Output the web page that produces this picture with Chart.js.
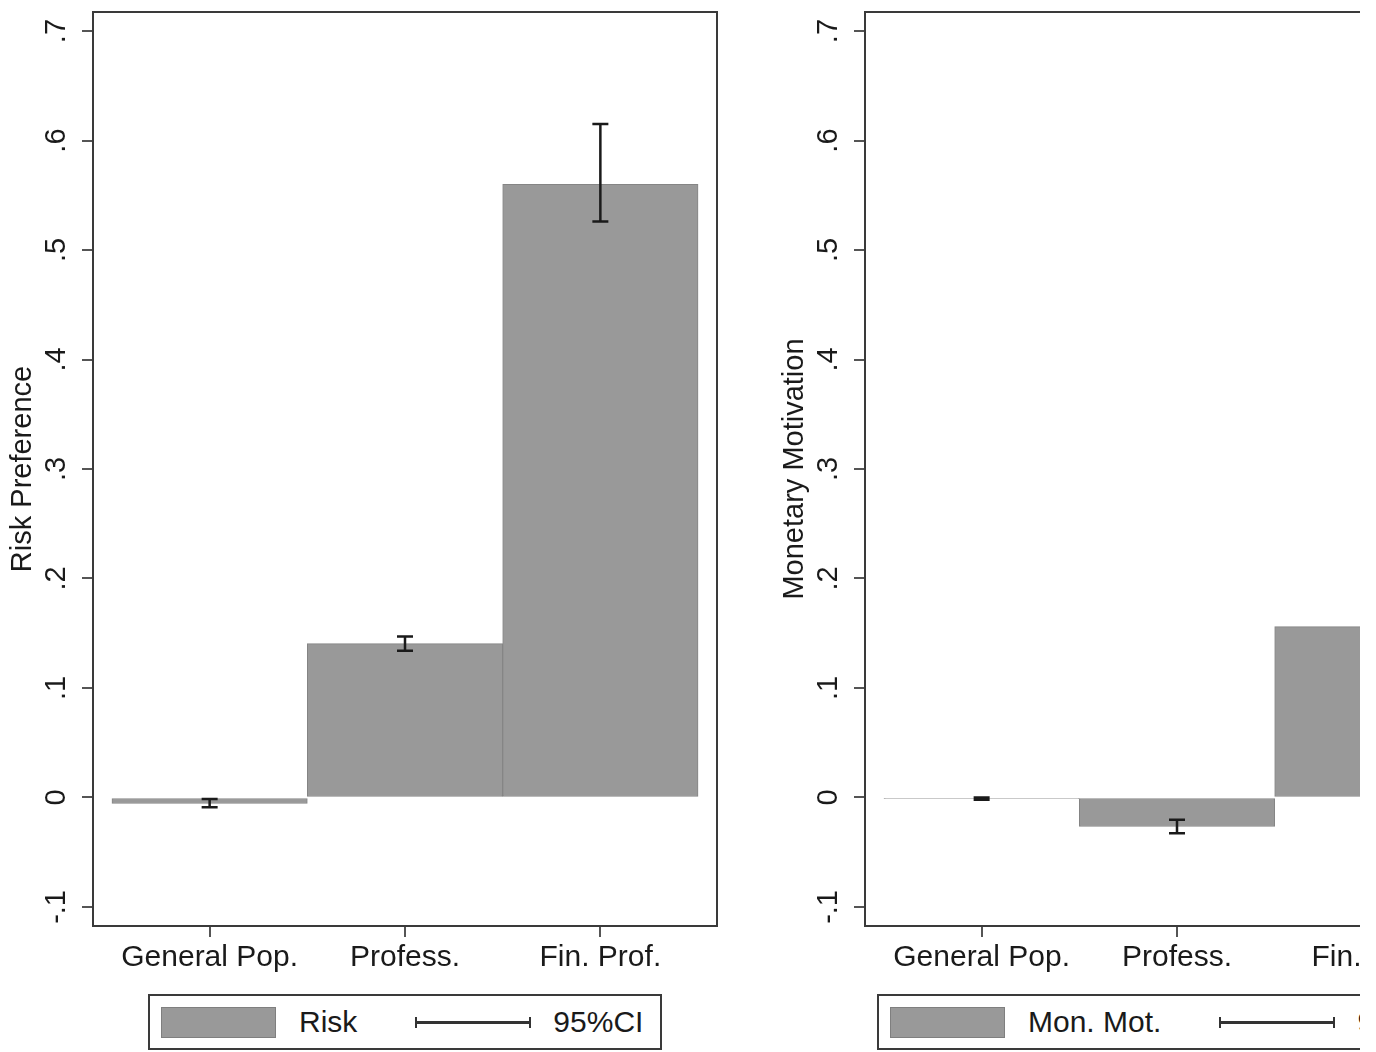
<!DOCTYPE html>
<html>
<head>
<meta charset="utf-8">
<script src="https://cdn.jsdelivr.net/npm/chart.js@4.4.1/dist/chart.umd.min.js"></script>
<style>
  body { margin: 0; background: #fff; font-family: "Liberation Sans", Arial, sans-serif; }
  #page { position: relative; width: 1376px; height: 1052px; overflow: hidden; background: #fff; }
  .panel { position: absolute; top: 0; width: 740px; height: 990px; }
  .clip { position: absolute; left: 772px; top: 0; width: 588px; height: 1052px; overflow: hidden; }
  .legend {
    position: absolute; top: 994px; height: 52px; box-sizing: content-box;
    border: 2px solid #3a3a3a; display: flex; align-items: center;
    padding: 0 17px 0 11px; white-space: nowrap; font-size: 30px; color: #1a1a1a;
  }
  .swatch { width: 113px; height: 29px; background: #999; border: 1px solid #7f7f7f; margin-right: 23px; }
  .ci { width: 112px; height: 11px; border-left: 2px solid #333; border-right: 2px solid #333; position: relative; margin-left: 58px; margin-right: 22px; }
  .ci::after { content: ""; position: absolute; left: 0; right: 0; top: 4px; height: 3px; background: #333; }
</style>
</head>
<body>
<div id="page">
  <div class="panel" style="left:0"><canvas id="c1" width="740" height="990"></canvas></div>
  <div class="legend" style="left:148px">
    <div class="swatch"></div><span>Risk</span><div class="ci"></div><span>95%CI</span>
  </div>
  <div class="clip">
    <div class="panel" style="left:0"><canvas id="c2" width="740" height="990"></canvas></div>
    <div class="legend" style="left:105px">
      <div class="swatch"></div><span>Mon. Mot.</span><div class="ci"></div><span>95%CI</span>
    </div>
  </div>
</div>
<script>
const categories = ['General Pop.', 'Profess.', 'Fin. Prof.'];
const yTickValues = [-0.1, 0, 0.1, 0.2, 0.3, 0.4, 0.5, 0.6, 0.7];
const yTickLabels = ['-.1', '0', '.1', '.2', '.3', '.4', '.5', '.6', '.7'];

const risk = [-0.0055, 0.1405, 0.560];
const riskLo = [-0.009, 0.134, 0.526];
const riskHi = [-0.0015, 0.147, 0.615];

const monMot = [-0.001, -0.0265, 0.156];
const monMotLo = [-0.002, -0.0326, 0.145];
const monMotHi = [0.0, -0.0204, 0.167];

Chart.defaults.font.family = '"Liberation Sans", Arial, sans-serif';

const errorBars = {
  id: 'errbars',
  afterDatasetsDraw(chart, args, opts) {
    const { ctx, scales: { x, y } } = chart;
    ctx.save();
    ctx.strokeStyle = '#1a1a1a';
    ctx.lineWidth = 2.5;
    opts.lo.forEach((lo, i) => {
      const px = x.getPixelForValue(i);
      const y1 = y.getPixelForValue(lo);
      const y2 = y.getPixelForValue(opts.hi[i]);
      ctx.beginPath();
      ctx.moveTo(px, y1); ctx.lineTo(px, y2);
      ctx.moveTo(px - 8, y1); ctx.lineTo(px + 8, y1);
      ctx.moveTo(px - 8, y2); ctx.lineTo(px + 8, y2);
      ctx.stroke();
    });
    ctx.restore();
  }
};

const frame = {
  id: 'frame',
  afterDraw(chart) {
    const { ctx, chartArea: a } = chart;
    ctx.save();
    ctx.strokeStyle = '#3a3a3a';
    ctx.lineWidth = 2;
    ctx.beginPath();
    ctx.moveTo(a.left, a.top); ctx.lineTo(a.right, a.top); ctx.lineTo(a.right, a.bottom);
    ctx.stroke();
    ctx.restore();
  }
};

function noPad(axis) {
  axis.paddingTop = 0; axis.paddingBottom = 0;
  axis.paddingLeft = 0; axis.paddingRight = 0;
}

function makeChart(id, title, values, lo, hi) {
  return new Chart(document.getElementById(id), {
    type: 'bar',
    data: {
      datasets: [{
        data: values.map((v, i) => ({ x: i, y: v })),
        backgroundColor: '#999999',
        borderColor: '#858585',
        borderWidth: 1,
        borderSkipped: false,
        barPercentage: 1,
        categoryPercentage: 1
      }]
    },
    options: {
      responsive: false,
      animation: false,
      layout: { padding: { top: 12, right: 23, left: 0, bottom: 0 } },
      plugins: {
        legend: { display: false },
        tooltip: { enabled: false },
        errbars: { lo: lo, hi: hi }
      },
      scales: {
        x: {
          type: 'linear',
          min: -0.597,
          max: 2.597,
          offset: false,
          afterBuildTicks: (axis) => { axis.ticks = categories.map((c, i) => ({ value: i })); },
          afterFit: (axis) => { axis.height = 64; noPad(axis); },
          ticks: {
            callback: (v) => categories[v],
            autoSkip: false,
            maxRotation: 0,
            padding: 3,
            color: '#1a1a1a',
            font: { size: 30 }
          },
          grid: { offset: false, drawOnChartArea: false, tickLength: 11, color: '#555', lineWidth: 2 },
          border: { color: '#3a3a3a', width: 2 }
        },
        y: {
          min: -0.1174,
          max: 0.7174,
          afterBuildTicks: (axis) => { axis.ticks = yTickValues.map(v => ({ value: v })); },
          afterFit: (axis) => { axis.width = 93; noPad(axis); },
          ticks: {
            callback: (v, i) => yTickLabels[i],
            minRotation: 90,
            maxRotation: 90,
            crossAlign: 'center',
            padding: 8,
            color: '#1a1a1a',
            font: { size: 29 }
          },
          grid: { drawOnChartArea: false, tickLength: 11, color: '#555', lineWidth: 2 },
          border: { color: '#3a3a3a', width: 2 },
          title: {
            display: true,
            text: title,
            color: '#1a1a1a',
            font: { size: 29 },
            padding: { top: 6, bottom: 0 }
          }
        }
      }
    },
    plugins: [errorBars, frame]
  });
}

makeChart('c1', 'Risk Preference', risk, riskLo, riskHi);
makeChart('c2', 'Monetary Motivation', monMot, monMotLo, monMotHi);
</script>
</body>
</html>
